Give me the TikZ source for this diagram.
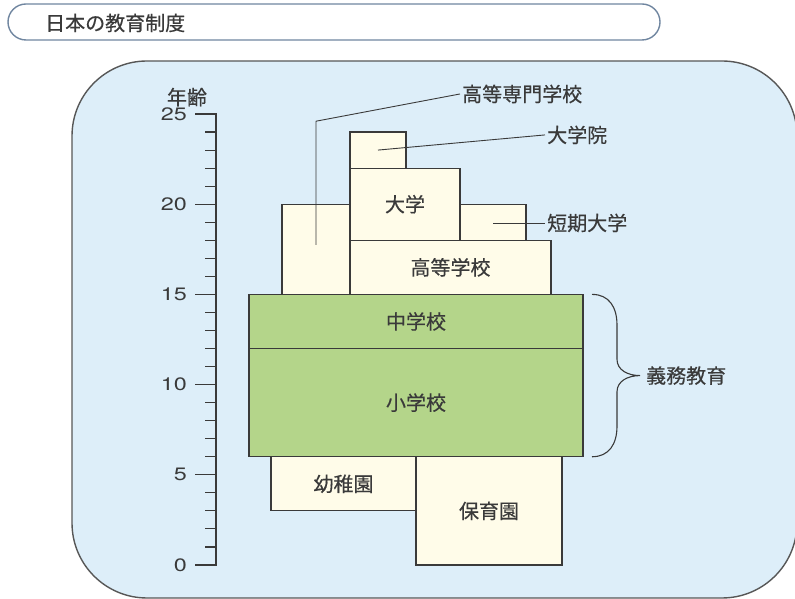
\documentclass[tikz,border=0pt]{standalone}
\usepackage{fontspec}
\setmainfont{Noto Sans CJK JP}[FakeBold=0.4]
\newfontfamily\numfont[FakeStretch=1.3]{TeX Gyre Heros}
\usetikzlibrary{positioning}

\definecolor{panelblue}{HTML}{DDEEF9}
\definecolor{cream}{HTML}{FFFCE9}
\definecolor{leafgreen}{HTML}{B4D58A}
\definecolor{inkgray}{HTML}{3A3A3A}
\definecolor{pillblue}{HTML}{7086A0}

\tikzset{
  school/.style={draw=inkgray, line width=1.2pt, fill=cream},
  duty/.style={school, fill=leafgreen},
  lbl/.style={font=\fontsize{20}{22}\selectfont, text=inkgray, inner sep=2pt},
  agenum/.style={font=\numfont\fontsize{18}{20}\selectfont, text=inkgray, anchor=east, inner sep=2pt},
  leader/.style={draw=inkgray, line width=0.9pt},
}

\begin{document}
\begin{tikzpicture}[x=1pt,y=1pt]
    \useasboundingbox (0,0) rectangle (795,599);

    % title bar
    \draw[pillblue, line width=1.4pt, fill=white, rounded corners=18pt] (8,559) rectangle (660,595);
    \node[lbl, anchor=west] (title) at (43,576) {日本の教育制度};

    % background panel
    \draw[inkgray!85, line width=1.4pt, fill=panelblue, rounded corners=75pt] (72,1) rectangle (797,538);

    \begin{scope}[shift={(0pt,34pt)}, y=18.04pt]
        % age axis
        \draw[inkgray, line width=1.1pt] (195,25) -- (216,25) -- (216,0) -- (195,0);
        \foreach \a in {1,...,24}
            \draw[inkgray, line width=1.1pt] (205,\a) -- (216,\a);
        \foreach \a in {5,10,15,20}
            \draw[inkgray, line width=1.1pt] (195,\a) -- (216,\a);
        \foreach \a in {0,5,...,25}
            \node[agenum] (age\a) at (189,\a) {\a};
        \node[lbl] (agehead) at (187,25.94) {年齢};

        % upper schools
        \draw[school] (282,15) rectangle (350,20);
        \draw[school] (350,22) rectangle (406,24);
        \draw[school] (350,18) rectangle (460,22);
        \draw[school] (460,18) rectangle (526,20);
        \draw[school] (350,15) rectangle (551,18);
        \node[lbl] (daigaku) at (405,20) {大学};
        \node[lbl] (koko) at (450.5,16.5) {高等学校};

        % compulsory
        \draw[duty] (249,12) rectangle (583,15);
        \draw[duty] (249,6) rectangle (583,12);
        \node[lbl] (chugaku) at (416,13.5) {中学校};
        \node[lbl] (shogaku) at (416,9) {小学校};

        % preschool
        \draw[school] (271,3) rectangle (416,6);
        \draw[school] (416,0) rectangle (562,6);
        \node[lbl] (yochien) at (343.5,4.5) {幼稚園};
        \node[lbl] (hoikuen) at (489,3) {保育園};

        % leaders
        \coordinate (kosenpt) at (316,17.74);
        \coordinate (kosenbend) at (316,24.6);
        \node[lbl, anchor=west] (kosen) at (460,26.11) {高等専門学校};
        \draw[leader] (kosenpt) -- (kosenbend) -- (kosen.west);

        \coordinate (inpt) at (378,23.0);
        \node[lbl, anchor=west] (daigakuin) at (545,23.84) {大学院};
        \draw[leader] (inpt) -- (daigakuin.west);

        \coordinate (tanpt) at (493,18.96);
        \node[lbl, anchor=west] (tandai) at (545,18.96) {短期大学};
        \draw[leader] (tanpt) -- (tandai.west);

        % brace
        \coordinate (bracetip) at (640,10.5);
        \draw[inkgray, line width=1.1pt] (592,15) .. controls (609,15) and (617,14.3) .. (617,13.3)
            -- (617,11.4) .. controls (617,10.8) and (628,10.5) .. (bracetip)
            .. controls (628,10.5) and (617,10.2) .. (617,9.6)
            -- (617,7.7) .. controls (617,6.7) and (609,6) .. (592,6);
        \node[lbl, right=4pt of bracetip] (gimu) {義務教育};
    \end{scope}
\end{tikzpicture}
\end{document}
